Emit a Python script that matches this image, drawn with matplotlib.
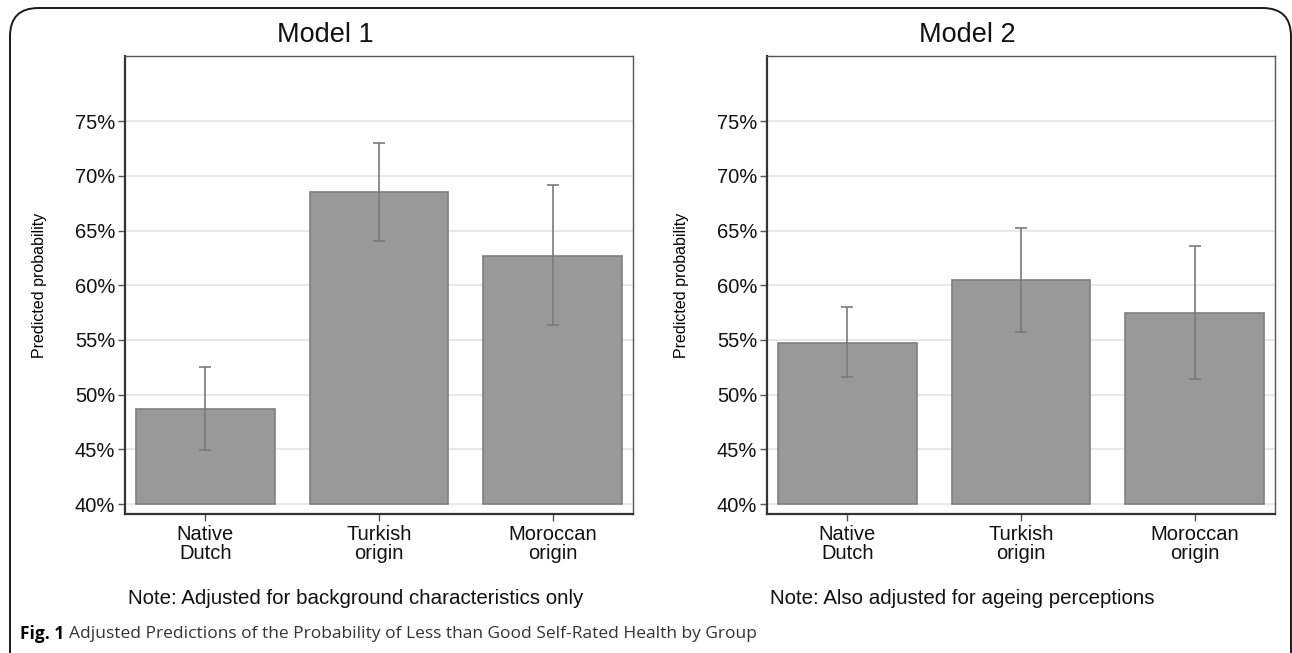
import matplotlib
matplotlib.use('Agg')
import matplotlib.pyplot as plt
from matplotlib.patches import FancyBboxPatch
import numpy as np

plt.rcParams['font.family'] = ['Liberation Sans', 'DejaVu Sans']

groups = ['Native\nDutch', 'Turkish\norigin', 'Moroccan\norigin']
yticks = [40, 45, 50, 55, 60, 65, 70, 75]

titles = ['Model 1', 'Model 2']
notes = ['Note: Adjusted for background characteristics only',
         'Note: Also adjusted for ageing perceptions']

# predicted probability (%) and 95% CI bounds
m1_est = [48.7, 68.5, 62.7]
m1_lo = [44.9, 64.0, 56.4]
m1_hi = [52.5, 73.0, 69.2]

m2_est = [54.7, 60.5, 57.5]
m2_lo = [51.6, 55.7, 51.4]
m2_hi = [58.0, 65.2, 63.6]

caption_bold = 'Fig. 1'
caption_text = 'Adjusted Predictions of the Probability of Less than Good Self-Rated Health by Group'

W, H = 1292, 653
f = plt.figure(figsize=(W / 100, H / 100), dpi=100)

# rounded frame around the figure (bottom edge cut off)
frame = FancyBboxPatch((10 / W, -0.2), (W - 11) / W, (H - 8) / H + 0.2,
                       boxstyle='round,pad=0,rounding_size=0.022',
                       transform=f.transFigure, fill=False,
                       edgecolor='#1a1a1a', linewidth=1.4, mutation_aspect=W / H)
f.patches.append(frame)

lefts = [125 / W, 767 / W]
bottom = (H - 514) / H
height = 458 / H
width = 508 / W
title_x = [325 / W, 967 / W]

models = [(m1_est, m1_lo, m1_hi), (m2_est, m2_lo, m2_hi)]
x = np.arange(len(groups))

for i, (est, lo, hi) in enumerate(models):
    ax = f.add_axes([lefts[i], bottom, width, height])
    est = np.array(est)
    base = 40
    ax.bar(x, est - base, bottom=base, width=0.8, color='#999999',
           edgecolor='#7f7f7f', linewidth=1.2, zorder=2)
    yerr = [est - np.array(lo), np.array(hi) - est]
    ax.errorbar(x, est, yerr=yerr, fmt='none', ecolor='#7a7a7a',
                elinewidth=1.2, capsize=4.5, capthick=1.2, zorder=3)
    ax.set_xlim(-0.463, 2.463)
    ax.set_ylim(39.09, 80.95)
    ax.set_yticks(yticks)
    ax.set_yticklabels(['%d%%' % v for v in yticks], fontsize=14.5)
    ax.set_xticks(x)
    ax.set_xticklabels(groups, fontsize=14.5, linespacing=1.0)
    ax.yaxis.grid(True, color='#e6e6e6', linewidth=1.3, zorder=0)
    ax.set_axisbelow(True)
    ax.tick_params(axis='both', direction='out', length=5, width=1,
                   colors='#555555', labelcolor='#111111')
    ax.tick_params(axis='x', pad=3)
    ax.tick_params(axis='y', pad=2)
    for s in ['left', 'bottom']:
        ax.spines[s].set_color('#333333')
        ax.spines[s].set_linewidth(1.6)
    for s in ['top', 'right']:
        ax.spines[s].set_color('#555555')
        ax.spines[s].set_linewidth(1.0)
    ax.set_ylabel('Predicted probability', fontsize=11.5, labelpad=20)
    f.text(title_x[i], 1 - 35 / H, titles[i], ha='center', va='center',
           fontsize=19.5, color='#111111')
    f.text(lefts[i] + 3 / W, 1 - 598 / H, notes[i], ha='left', va='center',
           fontsize=14.8, color='#111111')

cap = f.text(20 / W, 1 - 634 / H, caption_bold, ha='left', va='center',
             fontsize=12.5, fontweight='bold', family=['Open Sans', 'DejaVu Sans'])
f.canvas.draw()
bb = cap.get_window_extent()
f.text(bb.x1 / W + 5 / W, 1 - 634 / H, caption_text, ha='left', va='center',
       fontsize=12.5, color='#333333', family=['Open Sans', 'DejaVu Sans'])

plt.savefig('out.png', dpi=100)
